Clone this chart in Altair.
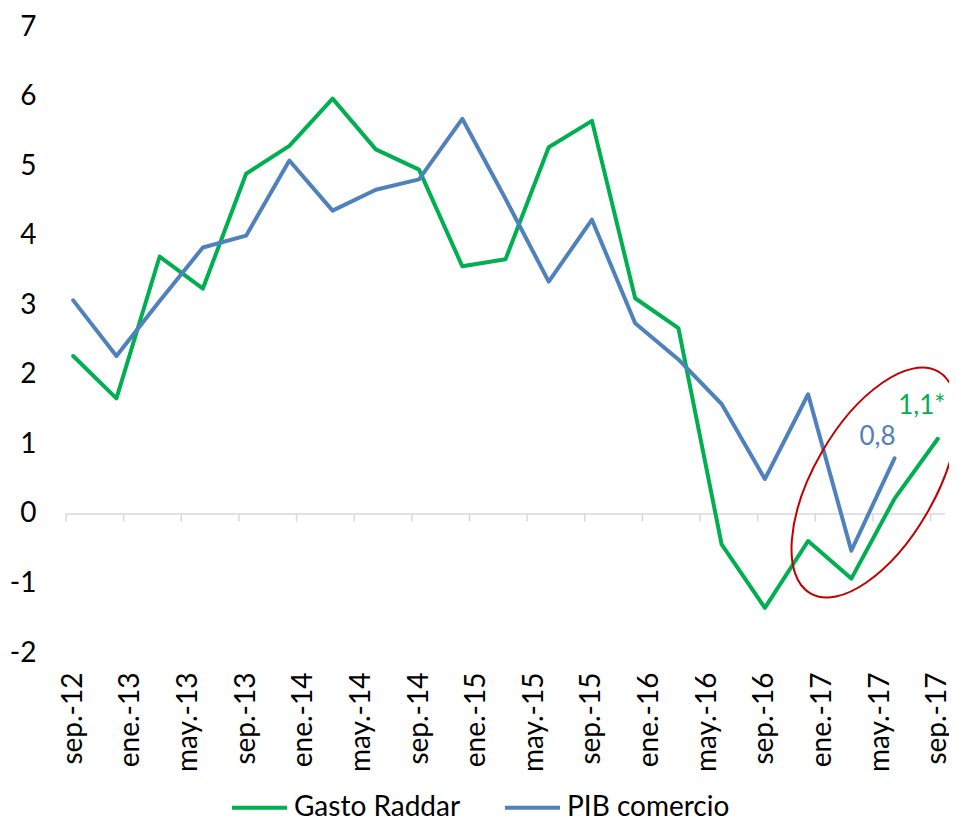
import json
import altair as alt
import pandas as pd

# Quarterly observations, month index 0 = sep-12 ... 60 = sep-17
MONTHS = list(range(0, 61, 3))
GASTO = [2.27, 1.66, 3.70, 3.24, 4.89, 5.29, 5.97, 5.24, 4.95, 3.56, 3.66,
         5.27, 5.65, 3.10, 2.67, -0.44, -1.35, -0.39, -0.93, 0.22, 1.08]
PIB = [3.07, 2.27, 3.06, 3.83, 4.00, 5.08, 4.36, 4.66, 4.81, 5.68, 4.53,
       3.34, 4.23, 2.74, 2.22, 1.58, 0.50, 1.72, -0.53, 0.80]
SERIES = ["Gasto Raddar", "PIB comercio"]
COLORS = ["#00B050", "#4F81BD"]

TICK_LABELS = ["sep.-12", "ene.-13", "may.-13", "sep.-13", "ene.-14", "may.-14",
               "sep.-14", "ene.-15", "may.-15", "sep.-15", "ene.-16", "may.-16",
               "sep.-16", "ene.-17", "may.-17", "sep.-17"]
LABEL_MONTHS = list(range(0, 61, 4))
AXIS_TICKS = [m - 0.5 for m in LABEL_MONTHS]
Y_TICKS = list(range(-2, 8))

ANNOT_TEXT = ["0,8", "1,1*"]
ANNOT_SERIES = ["PIB comercio", "Gasto Raddar"]
ANNOT_MONTH = [57, 60]
ANNOT_VALUE = [0.80, 1.08]

ELLIPSE_MONTH = [55.6]
ELLIPSE_VALUE = [0.45]

FONT = "Lato"

rows = []
for m, v in zip(MONTHS, GASTO):
    rows.append({"month": m, "value": v, "series": SERIES[0]})
for m, v in zip(MONTHS[:len(PIB)], PIB):
    rows.append({"month": m, "value": v, "series": SERIES[1]})
df = pd.DataFrame(rows)

xscale = alt.Scale(domain=[-0.5, 60.5], nice=False, zero=False)
yscale = alt.Scale(domain=[-2, 7], nice=False, zero=False)
color = alt.Color("series:N", scale=alt.Scale(domain=SERIES, range=COLORS),
                  sort=SERIES,
                  legend=alt.Legend(title=None, orient="none", direction="horizontal",
                                    legendX=164, legendY=751, symbolType="stroke",
                                    symbolSize=3025, symbolStrokeWidth=4,
                                    labelFont=FONT, labelFontSize=28, labelColor="#000000",
                                    labelLimit=0, labelOffset=5, columnPadding=36,
                                    padding=0))

label_expr = json.dumps(TICK_LABELS) + "[round(datum.value/4)]"

lines = alt.Chart(df).mark_line(strokeWidth=4, strokeCap="round", strokeJoin="round").encode(
    x=alt.X("month:Q", scale=xscale,
            axis=alt.Axis(values=LABEL_MONTHS, labelExpr=label_expr, labelAngle=-90,
                          title=None, domain=False, ticks=False, grid=False,
                          labelFont=FONT, labelFontSize=28, labelColor="#000000",
                          labelPadding=19, labelOverlap=False)),
    y=alt.Y("value:Q", scale=yscale,
            axis=alt.Axis(values=Y_TICKS, labelExpr="'' + datum.value", title=None,
                          domain=False, ticks=False, grid=False,
                          labelFont=FONT, labelFontSize=28, labelColor="#000000",
                          labelPadding=30)),
    color=color,
)

zero_df = pd.DataFrame({"x": [-0.5], "x2": [60.5], "y": [0]})
zero_line = alt.Chart(zero_df).mark_rule(color="#D9D9D9", strokeWidth=1.5).encode(
    x=alt.X("x:Q", scale=xscale), x2="x2:Q", y=alt.Y("y:Q", scale=yscale))

ticks_df = pd.DataFrame({"x": AXIS_TICKS, "y": [0] * len(AXIS_TICKS),
                         "y2": [-0.11] * len(AXIS_TICKS)})
tick_marks = alt.Chart(ticks_df).mark_rule(color="#D9D9D9", strokeWidth=1.5).encode(
    x=alt.X("x:Q", scale=xscale), y=alt.Y("y:Q", scale=yscale), y2="y2:Q")

ann_df = pd.DataFrame({"month": ANNOT_MONTH, "value": ANNOT_VALUE,
                       "text": ANNOT_TEXT, "series": ANNOT_SERIES})
ann_blue = alt.Chart(ann_df[ann_df.series == SERIES[1]]).mark_text(
    font=FONT, fontSize=26, color=COLORS[1], dx=-17, dy=-21).encode(
    x=alt.X("month:Q", scale=xscale), y=alt.Y("value:Q", scale=yscale), text="text:N")
ann_green = alt.Chart(ann_df[ann_df.series == SERIES[0]]).mark_text(
    font=FONT, fontSize=26, color=COLORS[0], dx=-16, dy=-33).encode(
    x=alt.X("month:Q", scale=xscale), y=alt.Y("value:Q", scale=yscale), text="text:N")

ELLIPSE_PATH = ("M 0 -1 C 0.2623 -1 0.475 -0.5523 0.475 0 "
                "C 0.475 0.5523 0.2623 1 0 1 "
                "C -0.2623 1 -0.475 0.5523 -0.475 0 "
                "C -0.475 -0.5523 -0.2623 -1 0 -1 Z")
ell_df = pd.DataFrame({"month": ELLIPSE_MONTH, "value": ELLIPSE_VALUE})
ellipse = alt.Chart(ell_df).mark_point(
    shape=ELLIPSE_PATH, size=65536, angle=30, filled=False,
    stroke="#C00000", strokeWidth=2, opacity=1).encode(
    x=alt.X("month:Q", scale=xscale), y=alt.Y("value:Q", scale=yscale))

chart = alt.layer(zero_line, tick_marks, lines, ellipse, ann_blue, ann_green).properties(
    width=879, height=626,
    background="#FFFFFF",
    autosize=alt.AutoSizeParams(type="none"),
    padding={"left": 58, "top": 19, "right": 4, "bottom": 168},
).configure_view(stroke=None)

chart.save("out.html", embed_options={"renderer": "svg", "actions": False})
